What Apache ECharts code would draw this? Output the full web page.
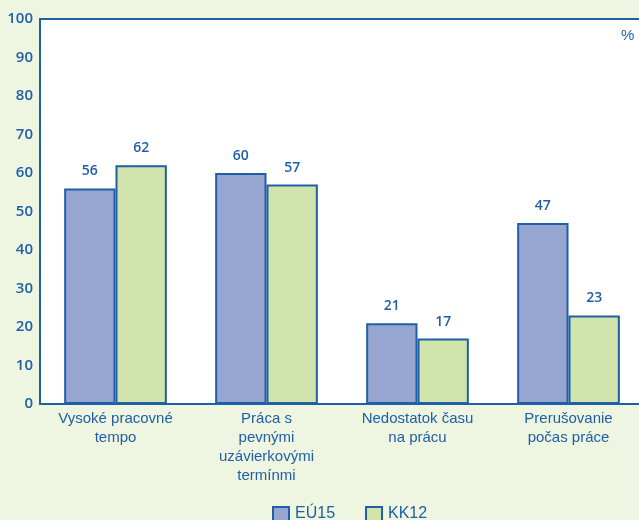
<!DOCTYPE html>
<html><head><meta charset="utf-8">
<script src="https://cdn.jsdelivr.net/npm/echarts@6/dist/echarts.min.js"></script>
<style>html,body{margin:0;padding:0;background:#eef5e1;}#c{width:639px;height:520px;}</style>
</head><body><div id="c"></div>
<script>
const categories = ["Vysoké pracovné\ntempo", "Práca s\npevnými\nuzávierkovými\ntermínmi", "Nedostatok času\nna prácu", "Prerušovanie\npočas práce"];
const seriesNames = ["EÚ15", "KK12"];
const eu15 = [56, 60, 21, 47];
const kk12 = [62, 57, 17, 23];
const yTicks = [0, 10, 20, 30, 40, 50, 60, 70, 80, 90, 100];

const blue = '#1f5fa8';
const chart = echarts.init(document.getElementById('c'), null, {renderer: 'canvas'});
const labelStyle = {show: true, position: 'top', distance: 10, color: blue, fontFamily: 'Open Sans', fontSize: 14, fontWeight: 600};
chart.setOption({
  backgroundColor: '#eef5e1',
  animation: false,
  grid: {left: 40, top: 19, width: 604, height: 385, outerBoundsMode: 'none', containLabel: false,
         show: true, backgroundColor: '#ffffff', borderColor: blue, borderWidth: 2},
  legend: {
    left: 272, top: 506, padding: 0, itemWidth: 16, itemHeight: 14, itemGap: 30, icon: 'rect',
    textStyle: {color: blue, fontFamily: 'Liberation Sans', fontSize: 16, padding: [0, 0, 0, 1]},
    data: seriesNames
  },
  xAxis: {
    type: 'category', data: categories,
    axisLine: {show: true, lineStyle: {color: blue, width: 2}},
    axisTick: {show: false},
    axisLabel: {interval: 0, margin: 5, color: blue, fontFamily: 'Liberation Sans', fontSize: 15, lineHeight: 19}
  },
  yAxis: {
    type: 'value', min: yTicks[0], max: yTicks[yTicks.length - 1], interval: yTicks[1] - yTicks[0],
    axisLine: {show: false}, axisTick: {show: false}, splitLine: {show: false},
    axisLabel: {margin: 7, color: blue, fontFamily: 'Open Sans', fontSize: 15, fontWeight: 600}
  },
  graphic: [{type: 'text', left: 621, top: 28, style: {text: '%', fill: blue, font: '15px "Liberation Sans"'}}],
  series: [
    {name: seriesNames[0], type: 'bar', data: eu15, barGap: '0%', barCategoryGap: '32%',
     itemStyle: {color: '#97a5d1', borderColor: blue, borderWidth: 2}, label: labelStyle},
    {name: seriesNames[1], type: 'bar', data: kk12,
     itemStyle: {color: '#d0e4ab', borderColor: blue, borderWidth: 2}, label: labelStyle}
  ]
});
</script></body></html>
